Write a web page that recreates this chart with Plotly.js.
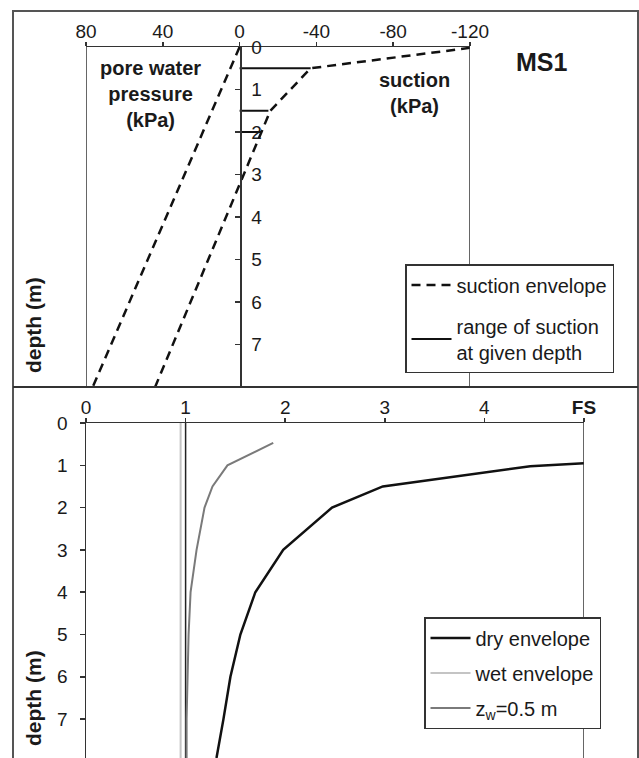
<!DOCTYPE html>
<html>
<head>
<meta charset="utf-8">
<script src="https://cdn.plot.ly/plotly-3.0.1.min.js"></script>
<style>html,body{margin:0;padding:0;background:#fff;}#chart{width:639px;height:758px;}</style>
</head>
<body>
<div id="chart"></div>
<script>
// ---------- Data (top panel: MS1 suction profile) ----------
const pwpDepth = [0, 8];               // hydrostatic pore water pressure line (m)
const pwpValue = [0, 76.5];            // kPa (positive = pressure)
const envDepth = [0.02, 0.5, 1.5, 8];  // suction envelope (m)
const envValue = [-120, -37, -16, 44]; // kPa (negative = suction)
const rangeDepth = [0.5, 1.5, 2];      // depths with measured suction range (m)
const rangeSuction = [-37, -15, -11.5];// max suction at those depths (kPa)
const topTicks = [80, 40, 0, -40, -80, -120];
const topTickText = ['80', '40', '0', '-40', '-80', '-120'];
const depthTicks = [0, 1, 2, 3, 4, 5, 6, 7];

// ---------- Data (bottom panel: factor of safety) ----------
const dryDepth = [0.95, 1.02, 1.5, 2, 3, 4, 5, 6, 7, 7.92];
const dryFS    = [5.02, 4.46, 2.98, 2.47, 1.98, 1.70, 1.55, 1.45, 1.38, 1.31];
const wetDepth = [0, 7.92];
const wetFS    = [0.95, 0.95];
const zwDepth  = [0.47, 1.0, 1.5, 2, 3, 4, 5, 6, 7, 7.92];
const zwFS     = [1.88, 1.42, 1.27, 1.19, 1.11, 1.05, 1.03, 1.02, 1.01, 1.01];
const fsTicks = [0, 1, 2, 3, 4, 5];
const fsTickText = ['0', '1', '2', '3', '4', '<b>FS</b>'];
const fsRef = 1;

// build range segments
const rx = [], ry = [];
rangeDepth.forEach((d, i) => { rx.push(0, rangeSuction[i], null); ry.push(d, d, null); });

const W = 639, H = 758;
const px = v => v / W;
const py = v => 1 - v / H;

const FONT = 'Liberation Sans, Arial, sans-serif';
const TXT = '#1a1a1a';
const AX = '#333';

const traces = [
  { x: pwpValue, y: pwpDepth, xaxis: 'x', yaxis: 'y', mode: 'lines', showlegend: false,
    line: { color: '#111', width: 2.5, dash: '9px,6px' }, hoverinfo: 'skip' },
  { x: envValue, y: envDepth, xaxis: 'x', yaxis: 'y', mode: 'lines', name: 'suction envelope',
    legend: 'legend', legendgroup: 'a', line: { color: '#111', width: 2.5, dash: '9px,6px' } },
  { x: rx, y: ry, xaxis: 'x', yaxis: 'y', mode: 'lines', name: 'range of suction<br>at given depth',
    legend: 'legend', legendgroup: 'b', line: { color: '#111', width: 2 } },
  { x: dryFS, y: dryDepth, xaxis: 'x2', yaxis: 'y2', mode: 'lines', name: 'dry envelope',
    legend: 'legend2', legendgroup: 'c', line: { color: '#111', width: 2.5 }, cliponaxis: false },
  { x: wetFS, y: wetDepth, xaxis: 'x2', yaxis: 'y2', mode: 'lines', name: 'wet envelope',
    legend: 'legend2', legendgroup: 'd', line: { color: '#c4c4c4', width: 2 } },
  { x: zwFS, y: zwDepth, xaxis: 'x2', yaxis: 'y2', mode: 'lines', name: 'z<sub>w</sub>=0.5 m',
    legend: 'legend2', legendgroup: 'e', line: { color: '#7a7a7a', width: 2 } }
];

const tickfont = { family: FONT, size: 19, color: TXT };

const ann = (text, x, y, size, extra) => Object.assign({
  text, xref: 'paper', yref: 'paper', x: px(x), y: py(y), xanchor: 'center', yanchor: 'middle',
  showarrow: false, font: { family: FONT, size, color: TXT }
}, extra || {});

const layout = {
  width: W, height: H,
  margin: { l: 0, r: 0, t: 0, b: 0, autoexpand: false },
  paper_bgcolor: '#fff', plot_bgcolor: 'rgba(0,0,0,0)',
  font: { family: FONT, color: TXT },
  xaxis: {
    domain: [px(86), px(470)], range: [80, -120], side: 'top', anchor: 'y',
    tickvals: topTicks, ticktext: topTickText, ticks: 'outside', ticklen: 4, tickcolor: AX, tickwidth: 1.5,
    showline: true, linecolor: AX, linewidth: 1.5, showgrid: false, zeroline: false,
    tickfont: tickfont, ticklabelstandoff: -4, automargin: false
  },
  yaxis: {
    domain: [py(387), py(47)], range: [8, 0], anchor: 'free', position: px(240), side: 'right',
    tickvals: depthTicks, ticks: 'inside', ticklen: 5, tickcolor: AX, tickwidth: 1.5,
    showline: true, linecolor: AX, linewidth: 1.5, showgrid: false, zeroline: false,
    tickfont: tickfont, ticklabelstandoff: 6, automargin: false
  },
  xaxis2: {
    domain: [px(86), px(584)], range: [0, 5], side: 'top', anchor: 'y2',
    tickvals: fsTicks, ticktext: fsTickText, ticks: 'outside', ticklen: 4, tickcolor: AX, tickwidth: 1.5,
    showline: true, linecolor: AX, linewidth: 1.5, showgrid: false, zeroline: false,
    tickfont: tickfont, ticklabelstandoff: -4, automargin: false
  },
  yaxis2: {
    domain: [0, py(423)], range: [7.92, 0], anchor: 'x2', side: 'left',
    tickvals: depthTicks, ticks: 'outside', ticklen: 5, tickcolor: AX, tickwidth: 1.5,
    showline: true, linecolor: AX, linewidth: 1.5, showgrid: false, zeroline: false,
    tickfont: tickfont, ticklabelstandoff: 8, automargin: false
  },
  legend: {
    x: px(405), y: py(264), xanchor: 'left', yanchor: 'top',
    bgcolor: '#fff', bordercolor: AX, borderwidth: 1.5,
    font: { family: FONT, size: 20, color: TXT }, itemwidth: 40, tracegroupgap: 12
  },
  legend2: {
    x: px(424), y: py(617), xanchor: 'left', yanchor: 'top',
    bgcolor: '#fff', bordercolor: AX, borderwidth: 1.5,
    font: { family: FONT, size: 20, color: TXT }, itemwidth: 40, tracegroupgap: 6
  },
  shapes: [
    // outer frame
    { type: 'rect', xref: 'paper', yref: 'paper', x0: px(13), x1: px(638), y0: py(762), y1: py(11),
      line: { color: '#555', width: 2 } },
    // divider between panels
    { type: 'line', xref: 'paper', yref: 'paper', x0: px(13), x1: px(638), y0: py(387), y1: py(387),
      line: { color: '#333', width: 2 } },
    // top panel side lines
    { type: 'line', xref: 'x', yref: 'y domain', x0: 80, x1: 80, y0: 0, y1: 1, line: { color: AX, width: 1.5 } },
    { type: 'line', xref: 'x', yref: 'y domain', x0: -120, x1: -120, y0: 0, y1: 1, line: { color: AX, width: 1.5 } },
    // bottom panel right line
    { type: 'line', xref: 'x2', yref: 'y2 domain', x0: 5, x1: 5, y0: 0, y1: 1, line: { color: AX, width: 1.5 } },
    // FS = 1 reference
    { type: 'line', xref: 'x2', yref: 'y2 domain', x0: fsRef, x1: fsRef, y0: 0, y1: 1, line: { color: '#222', width: 1.5 }, layer: 'below' }
  ],
  annotations: [
    ann('<b>MS1</b>', 542, 62, 25),
    ann('<b>pore water<br>pressure<br>(kPa)</b>', 150, 94, 20),
    ann('<b>suction<br>(kPa)</b>', 414, 93, 20),
    ann('<b>depth (m)</b>', 33, 325, 21, { textangle: -90 }),
    ann('<b>depth (m)</b>', 33, 698, 21, { textangle: -90 })
  ]
};

Plotly.newPlot('chart', traces, layout, { displayModeBar: false, staticPlot: true });
</script>
</body>
</html>
